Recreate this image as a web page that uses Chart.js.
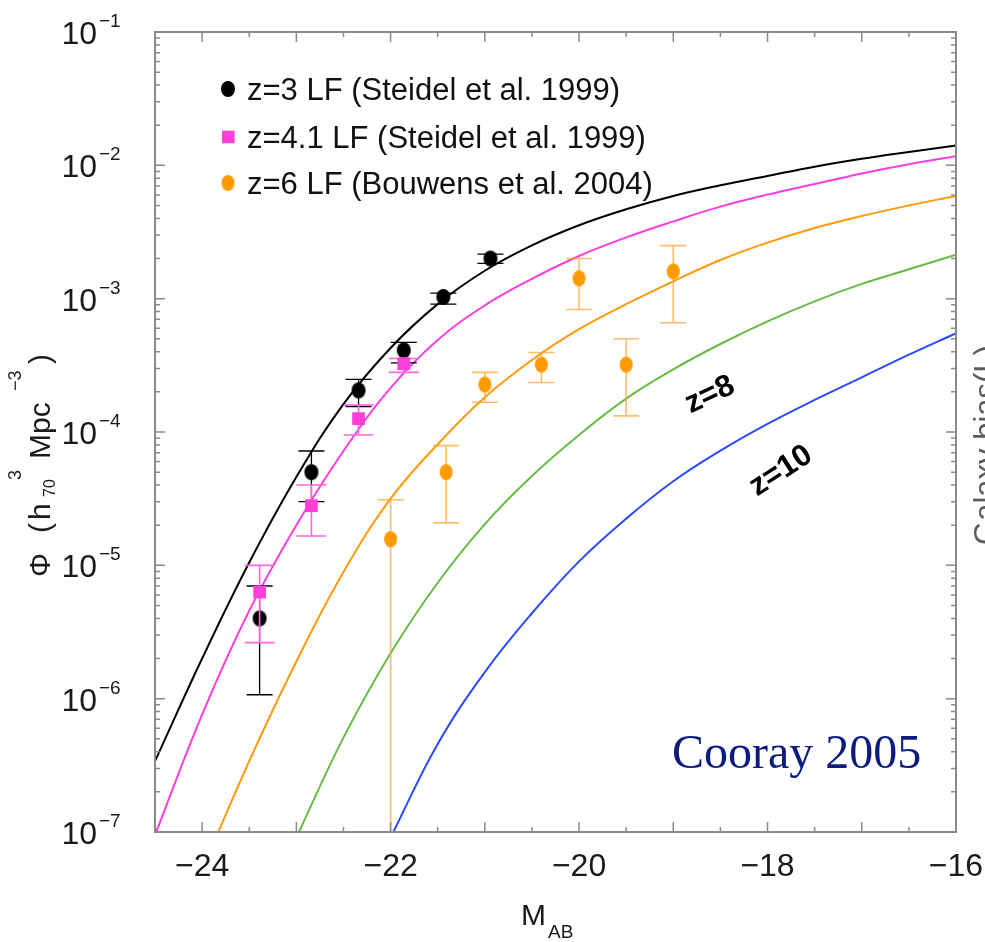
<!DOCTYPE html>
<html>
<head>
<meta charset="utf-8">
<script src="https://cdn.jsdelivr.net/npm/chart.js@4.4.1/dist/chart.umd.min.js"></script>
<style>
  html, body { margin: 0; padding: 0; background: #fff; }
  canvas { display: block; }
</style>
</head>
<body>
<canvas id="lf" width="985" height="942"></canvas>
<script>
// magnitude grid for the model curves
const curveMag = [-24.5, -24, -23.5, -23, -22.5, -22, -21.5, -21, -20.5, -20, -19.5, -19, -18.5, -18, -17.5, -17, -16.5, -16];
const lfZ3  = [3.4e-7, 2.0e-6, 1.05e-5, 4.6e-5, 1.62e-4, 4.27e-4, 9.1e-4, 1.62e-3, 2.51e-3, 3.55e-3, 4.68e-3, 5.89e-3, 7.08e-3, 8.32e-3, 9.77e-3, 1.12e-2, 1.26e-2, 1.41e-2];
const lfZ41 = [9.5e-8, 7.6e-7, 4.57e-6, 2.0e-5, 7.2e-5, 2.14e-4, 4.9e-4, 8.9e-4, 1.41e-3, 2.09e-3, 2.88e-3, 3.8e-3, 4.9e-3, 6.03e-3, 7.24e-3, 8.7e-3, 1.02e-2, 1.17e-2];
const lfZ6  = [null, 5.2e-8, 3.4e-7, 1.9e-6, 8.9e-6, 3.16e-5, 8.1e-5, 1.82e-4, 3.47e-4, 5.9e-4, 9.1e-4, 1.35e-3, 1.95e-3, 2.63e-3, 3.39e-3, 4.17e-3, 5.0e-3, 5.9e-3];
const lfZ8  = [null, null, null, 9.1e-8, 5.1e-7, 2.19e-6, 7.4e-6, 2.04e-5, 4.68e-5, 9.5e-5, 1.78e-4, 2.95e-4, 4.57e-4, 6.76e-4, 9.55e-4, 1.29e-3, 1.66e-3, 2.14e-3];
const lfZ10 = [null, null, null, null, null, 9.1e-8, 4.57e-7, 1.58e-6, 4.37e-6, 1.07e-5, 2.24e-5, 4.27e-5, 7.24e-5, 1.15e-4, 1.74e-4, 2.57e-4, 3.8e-4, 5.5e-4];

// Steidel et al. 1999, z=3
const z3Mag = [-23.39, -22.84, -22.34, -21.86, -21.44, -20.94];
const z3Phi = [4.0e-6, 5.0e-5, 2.05e-4, 4.1e-4, 1.03e-3, 2.0e-3];
const z3Hi  = [7.0e-6, 7.2e-5, 2.48e-4, 4.7e-4, 1.1e-3, 2.16e-3];
const z3Lo  = [1.07e-6, 3.0e-5, 1.55e-4, 3.3e-4, 9.1e-4, 1.84e-3];

// Steidel et al. 1999, z=4.1
const z41Mag = [-23.39, -22.84, -22.34, -21.86];
const z41Phi = [6.3e-6, 2.8e-5, 1.26e-4, 3.25e-4];
const z41Hi  = [1.0e-5, 4.0e-5, 1.59e-4, 3.56e-4];
const z41Lo  = [2.63e-6, 1.66e-5, 9.5e-5, 2.8e-4];

// Bouwens et al. 2004, z=6
const z6Mag = [-22.0, -21.41, -21.0, -20.4, -20.0, -19.5, -19.0];
const z6Phi = [1.57e-5, 5.0e-5, 2.27e-4, 3.2e-4, 1.42e-3, 3.2e-4, 1.6e-3];
const z6Hi  = [3.1e-5, 7.9e-5, 2.8e-4, 3.95e-4, 2.0e-3, 5.0e-4, 2.5e-3];
const z6Lo  = [1.0e-8, 2.08e-5, 1.67e-4, 2.35e-4, 8.3e-4, 1.32e-4, 6.6e-4];

const xTickLabels = [-24, -22, -20, -18, -16];
const yTickExps = [-1, -2, -3, -4, -5, -6, -7];

const SANS = '"Liberation Sans", Arial, Helvetica, sans-serif';
const axisGray = '#8a8a8a';

function pairs(xs, ys) {
  const out = [];
  xs.forEach((v, i) => { if (ys[i] != null) out.push({ x: v, y: ys[i] }); });
  return out;
}

function ellipseMarker(color, rx, ry) {
  const c = document.createElement('canvas');
  c.width = Math.ceil(rx * 2 + 2);
  c.height = Math.ceil(ry * 2 + 2);
  const g = c.getContext('2d');
  g.fillStyle = color;
  g.beginPath();
  g.ellipse(c.width / 2, c.height / 2, rx, ry, 0, 0, Math.PI * 2);
  g.fill();
  return c;
}

const blackDot = ellipseMarker('#000', 7, 8);
const orangeDot = ellipseMarker('#ff9a00', 6.5, 8);

function pointSet(label, xs, ys, lo, hi, style, color, errColor, errWidth, cap, order) {
  return {
    label, data: pairs(xs, ys), showLine: false,
    pointStyle: style, pointRadius: style === 'rect' ? 9 : 8,
    backgroundColor: color, borderColor: color, borderWidth: 0,
    errLo: lo, errHi: hi, errColor, errWidth, cap, order, inLegend: true
  };
}

function curveSet(ys, color) {
  return {
    data: pairs(curveMag, ys), showLine: true, pointRadius: 0,
    borderColor: color, borderWidth: 2, tension: 0.4,
    order: 10
  };
}

// vertical error bars with caps, drawn just before each point set
const errorBars = {
  id: 'errorBars',
  beforeDatasetDraw(chart, args) {
    const ds = chart.data.datasets[args.index];
    if (!ds.errHi) return;
    const { ctx, chartArea: a, scales: { x, y } } = chart;
    ctx.save();
    ctx.beginPath();
    ctx.rect(a.left, a.top, a.right - a.left, a.bottom - a.top);
    ctx.clip();
    ctx.strokeStyle = ds.errColor;
    ctx.lineWidth = ds.errWidth;
    ds.data.forEach((p, i) => {
      const px = x.getPixelForValue(p.x);
      const top = y.getPixelForValue(ds.errHi[i]);
      const bot = y.getPixelForValue(ds.errLo[i]);
      ctx.beginPath();
      ctx.moveTo(px, top); ctx.lineTo(px, bot);
      ctx.moveTo(px - ds.cap, top); ctx.lineTo(px + ds.cap, top);
      ctx.moveTo(px - ds.cap, bot); ctx.lineTo(px + ds.cap, bot);
      ctx.stroke();
    });
    ctx.restore();
  }
};

// frame with inward ticks on all four sides, tick labels and titles
const frame = {
  id: 'frame',
  afterDatasetsDraw(chart) {
    const { ctx, chartArea: a, scales: { x, y } } = chart;
    ctx.save();
    ctx.strokeStyle = axisGray;
    ctx.lineWidth = 1.5;
    ctx.beginPath();
    for (let m = x.min; m <= x.max + 1e-9; m += 0.5) {
      const px = x.getPixelForValue(m);
      const len = Number.isInteger(m) ? 10 : 5;
      ctx.moveTo(px, a.bottom); ctx.lineTo(px, a.bottom - len);
      ctx.moveTo(px, a.top); ctx.lineTo(px, a.top + len);
    }
    yTickExps.forEach(e => {
      for (let k = 1; k <= 9; k++) {
        const v = k * Math.pow(10, e);
        if (v > y.max * 1.0001) continue;
        const py = y.getPixelForValue(v);
        const len = k === 1 ? 10 : 5;
        ctx.moveTo(a.left, py); ctx.lineTo(a.left + len, py);
        ctx.moveTo(a.right, py); ctx.lineTo(a.right - len, py);
      }
    });
    ctx.stroke();
    ctx.lineWidth = 2;
    ctx.strokeRect(a.left, a.top, a.right - a.left, a.bottom - a.top);

    ctx.fillStyle = '#1a1a1a';
    // x tick labels
    ctx.font = '32px ' + SANS;
    ctx.textAlign = 'center';
    ctx.textBaseline = 'alphabetic';
    xTickLabels.forEach(v => {
      ctx.fillText('\u2212' + Math.abs(v), x.getPixelForValue(v), 876);
    });
    // y tick labels 10^n
    yTickExps.forEach(e => {
      const py = y.getPixelForValue(Math.pow(10, e));
      ctx.font = '32px ' + SANS;
      ctx.textAlign = 'right';
      ctx.fillText('10', 97, py + 12);
      ctx.font = '19px ' + SANS;
      ctx.textAlign = 'left';
      ctx.fillText('\u2212' + Math.abs(e), 99, py - 5);
    });

    // x title M_AB
    ctx.textAlign = 'left';
    ctx.font = '30px ' + SANS;
    ctx.fillText('M', 521, 925);
    ctx.font = '19px ' + SANS;
    ctx.fillText('AB', 548, 938);

    // y title, rotated
    ctx.save();
    ctx.translate(50, 577);
    ctx.rotate(-Math.PI / 2);
    ctx.font = '30px ' + SANS;
    ctx.fillText('\u03A6', 0, 0);
    ctx.fillText('(', 44, 0);
    ctx.fillText('h', 57, 0);
    ctx.fillText('Mpc', 118, 0);
    ctx.fillText(')', 213, 0);
    ctx.font = '16px ' + SANS;
    ctx.fillText('70', 80, 5);
    ctx.font = '18px ' + SANS;
    ctx.fillText('3', 97, -29);
    ctx.fillText('\u22123', 186, -29);
    ctx.restore();

    // clipped second-axis title on the right edge
    ctx.save();
    ctx.translate(996, 445);
    ctx.rotate(-Math.PI / 2);
    ctx.fillStyle = '#5c5c5c';
    ctx.font = '31px ' + SANS;
    ctx.textAlign = 'center';
    ctx.fillText('Galaxy bias(L)', 0, 0);
    ctx.restore();

    // in-panel legend
    const rows = [89, 137, 183];
    chart.data.datasets.filter(d => d.inLegend).forEach((d, i) => {
      const cy = rows[i];
      if (d.pointStyle === 'rect') {
        ctx.fillStyle = d.backgroundColor;
        ctx.fillRect(222, cy - 6.3, 12.6, 12.6);
      } else {
        ctx.drawImage(d.pointStyle, 228 - d.pointStyle.width / 2, cy - d.pointStyle.height / 2);
      }
      ctx.fillStyle = '#111';
      ctx.font = '31px ' + SANS;
      ctx.textAlign = 'left';
      ctx.fillText(d.label, 247, cy + 11);
    });

    // curve labels
    ctx.fillStyle = '#000';
    ctx.font = 'bold 31px ' + SANS;
    ctx.textAlign = 'center';
    ctx.textBaseline = 'middle';
    [['z=8', 710, 395, -25], ['z=10', 781, 471, -33]].forEach(([t, tx, ty, deg]) => {
      ctx.save();
      ctx.translate(tx, ty);
      ctx.rotate(deg * Math.PI / 180);
      ctx.fillText(t, 0, 0);
      ctx.restore();
    });

    ctx.fillStyle = '#0c1c80';
    ctx.font = '48px "Liberation Serif", "Times New Roman", serif';
    ctx.textAlign = 'left';
    ctx.textBaseline = 'alphabetic';
    ctx.fillText('Cooray 2005', 672, 768);
    ctx.restore();
  }
};

new Chart(document.getElementById('lf'), {
  type: 'scatter',
  data: {
    datasets: [
      pointSet('z=3 LF (Steidel et al. 1999)', z3Mag, z3Phi, z3Lo, z3Hi, blackDot, '#000', '#000', 1.3, 13, 2),
      pointSet('z=4.1 LF (Steidel et al. 1999)', z41Mag, z41Phi, z41Lo, z41Hi, 'rect', '#ff40d8', '#ff66e0', 1.6, 15, 1),
      pointSet('z=6 LF (Bouwens et al. 2004)', z6Mag, z6Phi, z6Lo, z6Hi, orangeDot, '#ff9a00', 'rgba(255,160,40,0.7)', 1.6, 13, 0),
      curveSet(lfZ3, '#000'),
      curveSet(lfZ41, '#ff3ce0'),
      curveSet(lfZ6, '#ff9a0a'),
      curveSet(lfZ8, '#66bb44'),
      curveSet(lfZ10, '#2a4bff')
    ]
  },
  options: {
    responsive: false,
    animation: false,
    devicePixelRatio: 1,
    layout: { padding: { left: 155, right: 29, top: 32, bottom: 110 } },
    plugins: { legend: { display: false }, tooltip: { enabled: false } },
    scales: {
      x: { type: 'linear', min: -24.5, max: -16, display: false },
      y: { type: 'logarithmic', min: 1e-7, max: 1e-1, display: false }
    }
  },
  plugins: [errorBars, frame]
});
</script>
</body>
</html>
